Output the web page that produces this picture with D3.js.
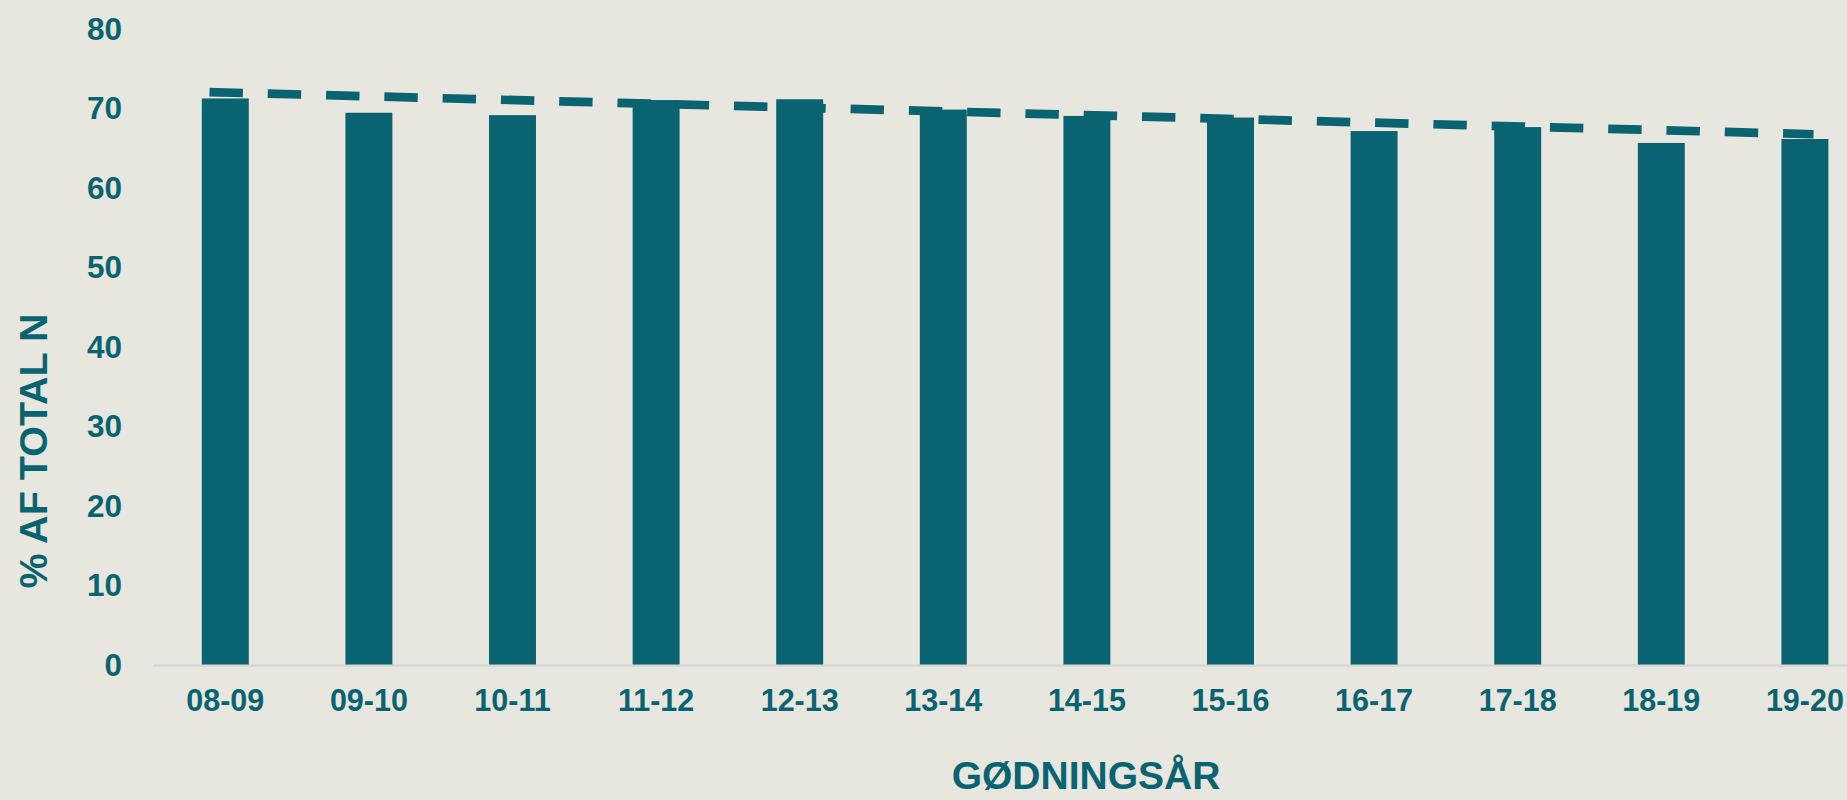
<!DOCTYPE html>
<html>
<head>
<meta charset="utf-8">
<script src="https://cdn.jsdelivr.net/npm/d3@7"></script>
<style>
  html, body { margin: 0; padding: 0; background: #e8e7df; }
  svg { display: block; }
</style>
</head>
<body>
<svg id="chart" width="1847" height="800"></svg>
<script>
// ---- data ----
const categories = ["08-09","09-10","10-11","11-12","12-13","13-14","14-15","15-16","16-17","17-18","18-19","19-20"];
const values = [71.2, 69.4, 69.1, 71.0, 71.1, 69.8, 69.0, 68.8, 67.1, 67.6, 65.6, 66.1];
const yTicks = [0, 10, 20, 30, 40, 50, 60, 70, 80];
// trendline end points (category index, value)
const trendIndex = [-0.11, 11.06];
const trendValue = [72.0, 66.7];
const yTitle = "% AF TOTAL N";
const xTitle = "GØDNINGSÅR";

// ---- layout ----
const W = 1847, H = 800;
const teal = "#0a6370";
const svg = d3.select("#chart");
svg.append("rect").attr("width", W).attr("height", H).attr("fill", "#e8e7df");

const step = 143.6;
const x0 = 153.5;
const x = d3.scaleBand()
  .domain(categories)
  .range([x0, x0 + step * categories.length])
  .paddingInner(0.673)
  .paddingOuter(0.3365);

const y = d3.scaleLinear().domain([0, 80]).range([664.5, 28.5]);

const xIdx = d3.scaleLinear()
  .domain([0, categories.length - 1])
  .range([x(categories[0]) + x.bandwidth() / 2, x(categories[categories.length - 1]) + x.bandwidth() / 2]);

// axis line
svg.append("line")
  .attr("x1", x.range()[0]).attr("x2", x.range()[1])
  .attr("y1", y(0) + 1).attr("y2", y(0) + 1)
  .attr("stroke", "#d6d6d3").attr("stroke-width", 2.5);

// bars
svg.append("g").selectAll("rect")
  .data(values)
  .join("rect")
  .attr("x", (d, i) => x(categories[i]))
  .attr("width", x.bandwidth())
  .attr("y", d => y(d))
  .attr("height", d => y(0) - y(d))
  .attr("fill", teal);

// trendline
const trendPts = trendIndex.map((t, i) => [xIdx(t), y(trendValue[i])]);
svg.append("path")
  .attr("d", d3.line()(trendPts))
  .attr("fill", "none")
  .attr("stroke", teal)
  .attr("stroke-width", 8.7)
  .attr("stroke-dasharray", "33.4 24.9");

// y tick labels
const font = "'Liberation Sans', Arial, sans-serif";
svg.append("g").selectAll("text")
  .data(yTicks)
  .join("text")
  .attr("x", 122)
  .attr("y", d => y(d))
  .attr("dy", "0.36em")
  .attr("text-anchor", "end")
  .attr("font-family", font)
  .attr("font-weight", "bold")
  .attr("font-size", 31.5)
  .attr("fill", teal)
  .text(d => d);

// x tick labels
svg.append("g").selectAll("text")
  .data(categories)
  .join("text")
  .attr("x", d => x(d) + x.bandwidth() / 2)
  .attr("y", 711)
  .attr("text-anchor", "middle")
  .attr("font-family", font)
  .attr("font-weight", "bold")
  .attr("font-size", 30.5)
  .attr("fill", teal)
  .text(d => d);

// axis titles
svg.append("text")
  .attr("transform", "translate(47,451) rotate(-90)")
  .attr("text-anchor", "middle")
  .attr("font-family", font)
  .attr("font-weight", "bold")
  .attr("font-size", 39.5)
  .attr("fill", teal)
  .text(yTitle);

svg.append("text")
  .attr("x", 1086)
  .attr("y", 789)
  .attr("text-anchor", "middle")
  .attr("font-family", font)
  .attr("font-weight", "bold")
  .attr("font-size", 39)
  .attr("fill", teal)
  .text(xTitle);
</script>
</body>
</html>
